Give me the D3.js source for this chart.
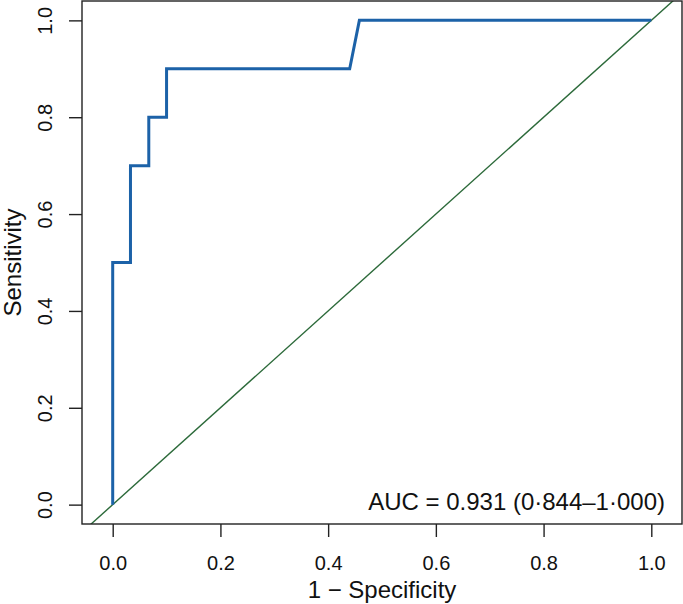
<!DOCTYPE html>
<html>
<head>
<meta charset="utf-8">
<script src="https://cdn.jsdelivr.net/npm/d3@7"></script>
<style>
  body { margin: 0; background: #fff; }
  svg text { font-family: "Liberation Sans", Arial, Helvetica, sans-serif; fill: #111; }
</style>
</head>
<body>
<div id="chart"></div>
<script>
// ROC curve points (1 - specificity, sensitivity)
const fpr = [0, 0, 0.033, 0.033, 0.067, 0.067, 0.1, 0.1, 0.44, 0.458, 1];
const tpr = [0, 0.5, 0.5, 0.7, 0.7, 0.8, 0.8, 0.9, 0.9, 1.0, 1.0];
const xTicks = [0, 0.2, 0.4, 0.6, 0.8, 1.0];
const yTicks = [0, 0.2, 0.4, 0.6, 0.8, 1.0];
const aucLabel = "AUC = 0.931 (0\u00B7844\u20131\u00B7000)";

const width = 683, height = 604;
const box = { left: 82, right: 682, top: 1, bottom: 524 };

const svg = d3.select("#chart").append("svg")
  .attr("width", width)
  .attr("height", height);

// scales (R-style padded ranges)
const x = d3.scaleLinear().domain([-0.057, 1.057]).range([box.left, box.right]);
const y = d3.scaleLinear().domain([-0.04, 1.04]).range([box.bottom, box.top]);

svg.append("clipPath").attr("id", "clip")
  .append("rect")
  .attr("x", box.left).attr("y", box.top)
  .attr("width", box.right - box.left).attr("height", box.bottom - box.top);

// reference diagonal
svg.append("line")
  .attr("clip-path", "url(#clip)")
  .attr("x1", x(-0.1)).attr("y1", y(-0.1))
  .attr("x2", x(1.1)).attr("y2", y(1.1))
  .attr("stroke", "#2c6a3a")
  .attr("stroke-width", 1.4);

// ROC curve
const pts = fpr.map((d, i) => [d, tpr[i]]);
svg.append("path")
  .datum(pts)
  .attr("fill", "none")
  .attr("stroke", "#1c62a8")
  .attr("stroke-width", 3)
  .attr("stroke-linejoin", "miter")
  .attr("d", d3.line().x(d => x(d[0])).y(d => y(d[1])));

// plot box
svg.append("rect")
  .attr("x", box.left).attr("y", box.top)
  .attr("width", box.right - box.left).attr("height", box.bottom - box.top)
  .attr("fill", "none")
  .attr("stroke", "#222")
  .attr("stroke-width", 1.4);

// x axis
const gx = svg.append("g")
  .attr("transform", `translate(0,${box.bottom})`)
  .call(d3.axisBottom(x).tickValues(xTicks).tickSize(13).tickFormat(d3.format(".1f")));
gx.select(".domain").remove();
gx.selectAll(".tick line").attr("stroke", "#222").attr("stroke-width", 1.4);
gx.selectAll(".tick text")
  .attr("y", 39).attr("dy", "0.35em")
  .style("font-size", "20px")
  .style("font-family", "'Liberation Sans', Arial, sans-serif")
  .attr("fill", "#111");

// y axis
const gy = svg.append("g")
  .attr("transform", `translate(${box.left},0)`)
  .call(d3.axisLeft(y).tickValues(yTicks).tickSize(13).tickFormat(d3.format(".1f")));
gy.select(".domain").remove();
gy.selectAll(".tick line").attr("stroke", "#222").attr("stroke-width", 1.4);
gy.selectAll(".tick text")
  .attr("x", null).attr("dy", null)
  .attr("text-anchor", "middle")
  .attr("dominant-baseline", "central")
  .attr("transform", `translate(${45 - box.left},0) rotate(-90)`)
  .style("font-size", "20px")
  .style("font-family", "'Liberation Sans', Arial, sans-serif")
  .attr("fill", "#111");

// axis titles
svg.append("text")
  .attr("x", (box.left + box.right) / 2)
  .attr("y", 598)
  .attr("text-anchor", "middle")
  .style("font-size", "24px")
  .text("1 \u2212 Specificity");

svg.append("text")
  .attr("transform", `translate(21,${(box.top + box.bottom) / 2}) rotate(-90)`)
  .attr("text-anchor", "middle")
  .style("font-size", "24px")
  .text("Sensitivity");

// AUC annotation
svg.append("text")
  .attr("x", 665)
  .attr("y", 510)
  .attr("text-anchor", "end")
  .style("font-size", "24px")
  .text(aucLabel);
</script>
</body>
</html>
